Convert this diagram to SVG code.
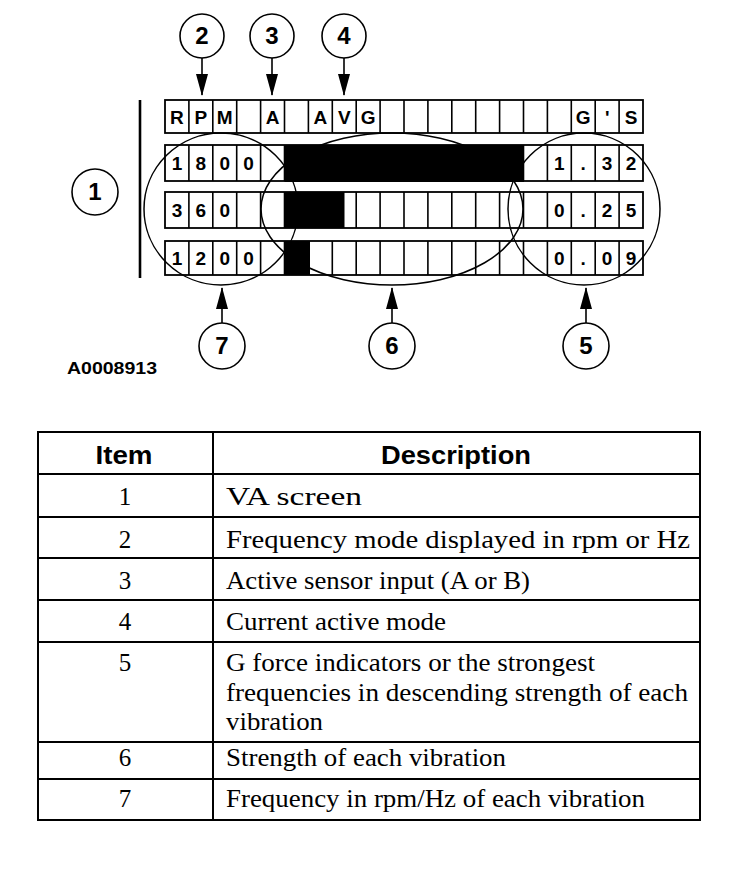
<svg xmlns="http://www.w3.org/2000/svg" width="752" height="896" viewBox="0 0 752 896">
<style>
.bg{fill:#fff}
.cell{fill:#fff;stroke:#000;stroke-width:1.8}
.div{fill:none;stroke:#000;stroke-width:1.6}
.bar{fill:#000}
.ell{fill:none;stroke:#000;stroke-width:1.5}
.g{font-family:"Liberation Sans",Arial,sans-serif;font-weight:bold;font-size:19px;text-anchor:middle;fill:#000}
.callout circle{fill:#fff;stroke:#000;stroke-width:1.6}
.callout text{font-family:"Liberation Sans",Arial,sans-serif;font-weight:bold;font-size:24px;text-anchor:middle;fill:#000}
.conn line{stroke:#000;stroke-width:1.6}
.tb{fill:none;stroke:#000;stroke-width:2}
.th{font-family:"Liberation Sans",Arial,sans-serif;font-weight:bold;font-size:26px;text-anchor:middle;fill:#000}
.td{font-family:"Liberation Serif","Times New Roman",serif;font-size:25px;fill:#000}
.tn{font-family:"Liberation Serif","Times New Roman",serif;font-size:25px;text-anchor:middle;fill:#000}
.code{font-family:"Liberation Sans",Arial,sans-serif;font-weight:bold;font-size:16px;fill:#000}
</style>
<defs>
<marker id="ah" markerUnits="userSpaceOnUse" markerWidth="22" markerHeight="12" refX="21" refY="6" orient="auto">
<path d="M0,0 L22,6 L0,12 z" fill="#000"/>
</marker>
</defs>
<rect class="bg" x="0" y="0" width="752" height="896"/>

<g id="va-screen">
  <rect class="cell" x="165" y="100" width="478" height="33"/>
  <rect class="cell" x="165" y="145" width="478" height="36"/>
  <rect class="cell" x="165" y="192" width="478" height="36"/>
  <rect class="cell" x="165" y="241" width="478" height="34"/>
  <path class="div" d="M188.9,100V133M212.8,100V133M236.7,100V133M260.6,100V133M284.5,100V133M308.4,100V133M332.3,100V133M356.2,100V133M380.1,100V133M404,100V133M427.9,100V133M451.8,100V133M475.7,100V133M499.6,100V133M523.5,100V133M547.4,100V133M571.3,100V133M595.2,100V133M619.1,100V133"/>
  <path class="div" d="M188.9,145V181M212.8,145V181M236.7,145V181M260.6,145V181M284.5,145V181M523.5,145V181M547.4,145V181M571.3,145V181M595.2,145V181M619.1,145V181"/>
  <path class="div" d="M188.9,192V228M212.8,192V228M236.7,192V228M260.6,192V228M284.5,192V228M356.2,192V228M380.1,192V228M404,192V228M427.9,192V228M451.8,192V228M475.7,192V228M499.6,192V228M523.5,192V228M547.4,192V228M571.3,192V228M595.2,192V228M619.1,192V228"/>
  <path class="div" d="M188.9,241V275M212.8,241V275M236.7,241V275M260.6,241V275M284.5,241V275M308.4,241V275M332.3,241V275M356.2,241V275M380.1,241V275M404,241V275M427.9,241V275M451.8,241V275M475.7,241V275M499.6,241V275M523.5,241V275M547.4,241V275M571.3,241V275M595.2,241V275M619.1,241V275"/>
  <rect class="bar" x="284.5" y="145" width="239.5" height="37"/>
  <rect class="bar" x="284.5" y="192" width="60" height="36"/>
  <rect class="bar" x="284.5" y="241" width="25.5" height="34"/>
  <text class="g" x="176.95" y="123.5">R</text>
  <text class="g" x="200.85" y="123.5">P</text>
  <text class="g" x="224.75" y="123.5">M</text>
  <text class="g" x="272.55" y="123.5">A</text>
  <text class="g" x="320.35" y="123.5">A</text>
  <text class="g" x="344.25" y="123.5">V</text>
  <text class="g" x="368.15" y="123.5">G</text>
  <text class="g" x="583.25" y="123.5">G</text>
  <text class="g" x="607.15" y="123.5">'</text>
  <text class="g" x="631.05" y="123.5">S</text>
  <text class="g" x="176.95" y="170">1</text>
  <text class="g" x="200.85" y="170">8</text>
  <text class="g" x="224.75" y="170">0</text>
  <text class="g" x="248.65" y="170">0</text>
  <text class="g" x="559.35" y="170">1</text>
  <text class="g" x="583.25" y="170">.</text>
  <text class="g" x="607.15" y="170">3</text>
  <text class="g" x="631.05" y="170">2</text>
  <text class="g" x="176.95" y="217">3</text>
  <text class="g" x="200.85" y="217">6</text>
  <text class="g" x="224.75" y="217">0</text>
  <text class="g" x="559.35" y="217">0</text>
  <text class="g" x="583.25" y="217">.</text>
  <text class="g" x="607.15" y="217">2</text>
  <text class="g" x="631.05" y="217">5</text>
  <text class="g" x="176.95" y="265">1</text>
  <text class="g" x="200.85" y="265">2</text>
  <text class="g" x="224.75" y="265">0</text>
  <text class="g" x="248.65" y="265">0</text>
  <text class="g" x="559.35" y="265">0</text>
  <text class="g" x="583.25" y="265">.</text>
  <text class="g" x="607.15" y="265">0</text>
  <text class="g" x="631.05" y="265">9</text>
  <path d="M140,100V278" stroke="#000" stroke-width="2.6" fill="none"/>
</g>

<g id="region-7"><ellipse class="ell" cx="221" cy="209" rx="77" ry="76"/></g>
<g id="region-6"><ellipse class="ell" cx="392" cy="209" rx="131" ry="76"/></g>
<g id="region-5"><ellipse class="ell" cx="584" cy="209" rx="76" ry="76"/></g>

<g id="connectors" class="conn">
  <line x1="202" y1="58" x2="202" y2="95" marker-end="url(#ah)"/>
  <line x1="272" y1="58" x2="272" y2="95" marker-end="url(#ah)"/>
  <line x1="344" y1="58" x2="344" y2="95" marker-end="url(#ah)"/>
  <line x1="222" y1="323" x2="222" y2="288" marker-end="url(#ah)"/>
  <line x1="392" y1="323" x2="392" y2="288" marker-end="url(#ah)"/>
  <line x1="586" y1="323" x2="586" y2="288" marker-end="url(#ah)"/>
</g>

<g id="callout-1" class="callout"><circle cx="95" cy="192" r="23"/><text x="95" y="200">1</text></g>
<g id="callout-2" class="callout"><circle cx="202" cy="36" r="22"/><text x="202" y="44">2</text></g>
<g id="callout-3" class="callout"><circle cx="272" cy="36" r="22"/><text x="272" y="44">3</text></g>
<g id="callout-4" class="callout"><circle cx="344" cy="36" r="22"/><text x="344" y="44">4</text></g>
<g id="callout-7" class="callout"><circle cx="222" cy="346" r="23"/><text x="222" y="354">7</text></g>
<g id="callout-6" class="callout"><circle cx="392" cy="346" r="23"/><text x="392" y="354">6</text></g>
<g id="callout-5" class="callout"><circle cx="586" cy="346" r="23"/><text x="586" y="354">5</text></g>

<g id="figure-code"><text class="code" x="67" y="374" textLength="90" lengthAdjust="spacingAndGlyphs">A0008913</text></g>

<g id="legend-table">
  <rect class="tb" x="38" y="432" width="662" height="388"/>
  <path class="tb" d="M213,432V820M38,474H700M38,517H700M38,558H700M38,600H700M38,642H700M38,742H700M38,779H700"/>
  <text class="th" x="124" y="464" textLength="57" lengthAdjust="spacingAndGlyphs">Item</text>
  <text class="th" x="456" y="464" textLength="150" lengthAdjust="spacingAndGlyphs">Description</text>
  <text class="tn" x="125" y="505">1</text>
  <text class="tn" x="125" y="548">2</text>
  <text class="tn" x="125" y="589">3</text>
  <text class="tn" x="125" y="630">4</text>
  <text class="tn" x="125" y="671">5</text>
  <text class="tn" x="125" y="766">6</text>
  <text class="tn" x="125" y="807">7</text>
  <text class="td" x="226" y="505" textLength="136" lengthAdjust="spacingAndGlyphs">VA screen</text>
  <text class="td" x="226" y="548" textLength="464" lengthAdjust="spacingAndGlyphs">Frequency mode displayed in rpm or Hz</text>
  <text class="td" x="226" y="589" textLength="304" lengthAdjust="spacingAndGlyphs">Active sensor input (A or B)</text>
  <text class="td" x="226" y="630" textLength="220" lengthAdjust="spacingAndGlyphs">Current active mode</text>
  <text class="td" x="226" y="671" textLength="369" lengthAdjust="spacingAndGlyphs">G force indicators or the strongest</text>
  <text class="td" x="226" y="701" textLength="462" lengthAdjust="spacingAndGlyphs">frequencies in descending strength of each</text>
  <text class="td" x="226" y="730" textLength="97" lengthAdjust="spacingAndGlyphs">vibration</text>
  <text class="td" x="226" y="766" textLength="280" lengthAdjust="spacingAndGlyphs">Strength of each vibration</text>
  <text class="td" x="226" y="807" textLength="419" lengthAdjust="spacingAndGlyphs">Frequency in rpm/Hz of each vibration</text>
</g>
</svg>
